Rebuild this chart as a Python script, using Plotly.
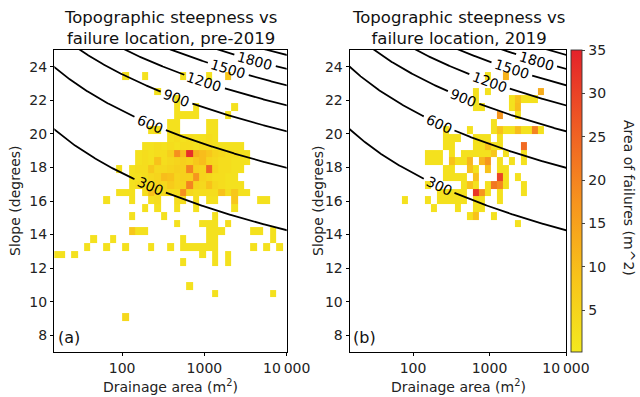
import numpy as np
import plotly.graph_objects as go

# ---------------- data ----------------
# histogram bin edges: log10(drainage area) and slope (degrees)
area_edges_log10 = np.linspace(1.149, 1.149 + 0.0778 * 36, 37)
slope_edges = np.linspace(8.87, 8.87 + 0.463 * 32, 33)

# {slope bin: {area bin: area of failures (m^2)}}
pre2019_cells = {
    31: {11: 2, 14: 2, 20: 2, 24: 2, 27: 8},
    29: {16: 2},
    28: {19: 2},
    27: {19: 2, 22: 2, 28: 2},
    26: {19: 2, 20: 2, 21: 2, 22: 2, 27: 2},
    25: {18: 2, 19: 2, 24: 2, 25: 2},
    24: {15: 2, 16: 2, 18: 2, 19: 2, 24: 2, 25: 2},
    23: {18: 2, 19: 3, 20: 2, 21: 3, 22: 2, 23: 2, 24: 3, 25: 2},
    22: {14: 2, 15: 2, 16: 3, 17: 2, 18: 3, 19: 2, 20: 3, 21: 3, 22: 2, 23: 3,
         24: 3, 25: 2, 26: 2, 27: 2, 28: 2, 29: 2},
    21: {13: 2, 14: 3, 15: 2, 16: 3, 17: 3, 18: 6, 19: 18, 20: 10, 21: 33, 22: 12,
         23: 10, 24: 8, 25: 5, 26: 4, 27: 3, 28: 3, 29: 2, 30: 2},
    20: {13: 2, 14: 3, 15: 2, 16: 9, 17: 3, 18: 4, 19: 5, 20: 6, 21: 5, 22: 8,
         23: 10, 24: 5, 25: 4, 26: 3, 27: 3, 28: 2, 29: 2, 30: 2},
    19: {10: 2, 12: 2, 13: 3, 14: 3, 15: 8, 16: 4, 17: 4, 18: 5, 19: 6, 20: 6,
         21: 20, 22: 6, 23: 5, 24: 25, 25: 5, 26: 3, 27: 3, 28: 2, 29: 2},
    18: {12: 2, 13: 2, 14: 3, 15: 4, 16: 5, 17: 10, 18: 9, 19: 5, 20: 6, 21: 6,
         22: 17, 23: 5, 24: 4, 25: 3, 26: 3, 27: 2, 28: 2},
    17: {12: 2, 13: 3, 14: 3, 15: 3, 16: 5, 17: 4, 18: 7, 19: 5, 20: 5, 21: 20,
         22: 5, 23: 4, 24: 9, 25: 4, 26: 3, 27: 2, 28: 2, 29: 2},
    16: {10: 2, 11: 2, 12: 2, 14: 3, 15: 9, 16: 3, 17: 4, 18: 3, 19: 3, 20: 18,
         21: 4, 22: 3, 23: 3, 24: 3, 25: 3, 26: 9, 27: 3, 28: 8, 29: 2, 30: 2},
    15: {8: 2, 12: 2, 15: 2, 16: 3, 19: 3, 20: 3, 22: 3, 24: 2, 25: 2, 28: 8,
         32: 2, 33: 2},
    14: {14: 2, 16: 2, 19: 2, 22: 2, 28: 2},
    13: {12: 2, 17: 2, 25: 2},
    12: {19: 2, 23: 2, 24: 2, 25: 2, 27: 3},
    11: {12: 8, 13: 2, 14: 2, 24: 2, 25: 2, 26: 2, 31: 2, 32: 2, 34: 2},
    10: {6: 2, 9: 2, 20: 2, 24: 2, 25: 2, 34: 2},
    9: {5: 2, 8: 2, 11: 2, 15: 2, 18: 2, 20: 2, 21: 2, 22: 2, 23: 2, 24: 2, 25: 2,
        31: 2, 33: 2, 35: 2},
    8: {0: 2, 1: 2, 3: 2, 23: 2, 25: 2, 27: 2},
    7: {20: 2, 25: 2, 27: 2},
    4: {21: 2},
    3: {25: 2, 34: 2},
    0: {11: 4},
}

cells_2019 = {
    31: {23: 2, 26: 12},
    29: {21: 2, 23: 2, 32: 13},
    28: {21: 2, 27: 2, 28: 9, 29: 2, 30: 2, 31: 2},
    27: {21: 2, 22: 2, 27: 2, 28: 10},
    26: {25: 17, 28: 2},
    25: {24: 2},
    24: {16: 2, 20: 2, 24: 2, 25: 9, 26: 2, 27: 2, 28: 10, 29: 2, 30: 2, 31: 20, 32: 2},
    23: {16: 2, 17: 2, 18: 2, 21: 2, 22: 2, 23: 2, 25: 2},
    22: {16: 2, 17: 2, 21: 2, 22: 2, 23: 9, 24: 2, 25: 2, 29: 24},
    21: {13: 2, 14: 2, 15: 2, 17: 2, 19: 2, 20: 2, 21: 2, 22: 2, 23: 2, 24: 8,
         26: 2, 29: 2},
    20: {13: 2, 14: 2, 15: 2, 17: 9, 18: 2, 19: 2, 20: 11, 22: 11, 23: 17, 25: 2,
         27: 2, 29: 2},
    19: {16: 2, 17: 2, 20: 9, 21: 2, 23: 9, 25: 2, 26: 2},
    18: {16: 2, 17: 2, 18: 2, 19: 2, 21: 9, 25: 30, 26: 2, 28: 2},
    17: {13: 2, 19: 2, 20: 9, 21: 2, 23: 2, 24: 22, 25: 19, 26: 2, 29: 2},
    16: {15: 2, 16: 2, 17: 2, 18: 2, 19: 2, 21: 32, 22: 17, 23: 2, 25: 2, 29: 2},
    15: {9: 2, 13: 2, 15: 2, 16: 2, 17: 2, 18: 2, 19: 2, 21: 2, 22: 2, 25: 2},
    14: {14: 2, 18: 2, 21: 2, 22: 2},
    13: {20: 2, 21: 9, 24: 2},
    12: {28: 2},
}

contour_levels = [300, 600, 900, 1200, 1500, 1800, 2100]
label_levels = [300, 600, 900, 1200, 1500, 1800]
label_log10_area = [2.34, 2.34, 2.66, 3.0, 3.29, 3.615]
x_tick_values = [100, 1000, 10000]
x_tick_labels = ["100", "1000", "10\u2009000"]
y_tick_values = [8, 10, 12, 14, 16, 18, 20, 22, 24]
colorbar_ticks = [5, 10, 15, 20, 25, 30, 35]
titles = ["Topographic steepness vs<br>failure location, pre-2019",
          "Topographic steepness vs<br>failure location, 2019"]
panel_tags = ["(a)", "(b)"]

# steepness index f(A, S) = C * log10(A)^P * exp(B * S)
C_, P_, B_ = 5.94, 0.913, 0.1863


def slope_on_level(level, L):
    return (np.log(level / C_) - P_ * np.log(L)) / B_


def to_grid(cells):
    z = [[None] * 36 for _ in range(32)]
    for r, row in cells.items():
        for c, v in row.items():
            z[r][c] = v
    return z


FONT = "DejaVu Sans"
W, H = 640, 397
px = lambda v: v / W
py = lambda v: 1 - v / H
XMIN = np.log10(15)
panels = [dict(x0=54.3, x1=286.7), dict(x0=350.0, x1=566.0)]
Y0, Y1 = 50.0, 352.0
px_per_deg = (Y1 - Y0) / 18.0

area_edges = (10 ** area_edges_log10).tolist()
Lg = np.linspace(XMIN - 0.02, 4.02, 900)

fig = go.Figure()
ann = []
for i, cells in enumerate([pre2019_cells, cells_2019]):
    xa = "x" if i == 0 else "x2"
    ya = "y" if i == 0 else "y2"
    px_per_dec = (panels[i]["x1"] - panels[i]["x0"]) / (4 - XMIN)
    fig.add_trace(go.Heatmap(
        x=area_edges, y=slope_edges.tolist(), z=to_grid(cells),
        coloraxis="coloraxis", xaxis=xa, yaxis=ya, hoverongaps=False))
    for lev in contour_levels:
        S = slope_on_level(lev, Lg)
        S = np.where((S > 6.0) & (S < 26.0), S, np.nan)
        if lev in label_levels:
            j = label_levels.index(lev)
            Ll = label_log10_area[j]
            Sl = float(slope_on_level(lev, Ll))
            half = len(str(lev)) * 8.9 / 2 + 3.5
            d = np.hypot((Lg - Ll) * px_per_dec, (S - Sl) * px_per_deg)
            S = np.where(d < half, np.nan, S)
            dSdL = -P_ / (B_ * Ll)
            ang = np.degrees(np.arctan(-dSdL * px_per_deg / px_per_dec))
            ann.append(dict(x=Ll, y=Sl, xref=xa, yref=ya, text=str(lev),
                            textangle=ang, showarrow=False, xanchor="center",
                            yanchor="middle",
                            font=dict(size=14, family=FONT, color="black")))
        fig.add_trace(go.Scatter(
            x=(10 ** Lg).tolist(), y=S.tolist(), mode="lines", xaxis=xa, yaxis=ya,
            line=dict(color="black", width=1.8), hoverinfo="skip",
            connectgaps=False))

axis_common = dict(showline=True, mirror=True, linecolor="black", linewidth=0.9,
                   ticks="outside", ticklen=3.5, tickwidth=0.9, tickcolor="black",
                   showgrid=False, zeroline=False, automargin=False,
                   tickfont=dict(size=14, family=FONT, color="#222"))
xr = [XMIN, 4]
fig.update_layout(
    width=W, height=H, autosize=False, margin=dict(l=0, r=0, t=0, b=0, pad=0),
    plot_bgcolor="white", paper_bgcolor="white", showlegend=False,
    font=dict(family=FONT, color="#222"),
    xaxis=dict(domain=[px(panels[0]["x0"]), px(panels[0]["x1"])], type="log", range=xr,
               tickvals=x_tick_values, ticktext=x_tick_labels, anchor="y", **axis_common),
    yaxis=dict(domain=[py(Y1), py(Y0)], range=[7, 25], tickvals=y_tick_values,
               anchor="x", **axis_common),
    xaxis2=dict(domain=[px(panels[1]["x0"]), px(panels[1]["x1"])], type="log", range=xr,
                tickvals=x_tick_values, ticktext=x_tick_labels, anchor="y2", **axis_common),
    yaxis2=dict(domain=[py(Y1), py(Y0)], range=[7, 25], tickvals=y_tick_values,
                anchor="x2", **axis_common),
    coloraxis=dict(
        cmin=0.2, cmax=35,
        colorscale=[[0.0, "#f3e91f"], [0.25, "#f8c31a"], [0.5, "#f6931e"],
                    [0.75, "#ef5b24"], [1.0, "#e4222a"]],
        colorbar=dict(x=px(571), xanchor="left", xpad=0, ypad=0,
                      y=py(201), yanchor="middle", len=(Y1 - Y0) / H, lenmode="fraction",
                      thickness=11, thicknessmode="pixels",
                      outlinewidth=0.9, outlinecolor="#333",
                      ticks="outside", ticklen=3.5, tickwidth=0.9,
                      tickvals=colorbar_ticks,
                      tickfont=dict(size=14, family=FONT, color="#222"))),
)

for i in range(2):
    cx = (panels[i]["x0"] + panels[i]["x1"]) / 2
    ann.append(dict(x=px(cx), y=py(49.5), xref="paper", yref="paper",
                    text=titles[i], showarrow=False, xanchor="center", yanchor="bottom",
                    font=dict(size=16.5, family=FONT, color="#111")))
    ann.append(dict(x=px(cx), y=py(386), xref="paper", yref="paper",
                    text="Drainage area (m<sup>2</sup>)", showarrow=False,
                    xanchor="center", yanchor="middle",
                    font=dict(size=14, family=FONT, color="#222")))
for xpos in (15, 318):
    ann.append(dict(x=px(xpos), y=py(201), xref="paper", yref="paper",
                    text="Slope (degrees)", textangle=-90, showarrow=False,
                    xanchor="center", yanchor="middle",
                    font=dict(size=14, family=FONT, color="#222")))
ann.append(dict(x=px(56), y=py(337), xref="paper", yref="paper", text=panel_tags[0],
                showarrow=False, xanchor="left", yanchor="middle",
                font=dict(size=16, family=FONT, color="#111")))
ann.append(dict(x=px(351), y=py(337), xref="paper", yref="paper", text=panel_tags[1],
                showarrow=False, xanchor="left", yanchor="middle",
                font=dict(size=16, family=FONT, color="#111")))
ann.append(dict(x=px(629), y=py(198), xref="paper", yref="paper",
                text="Area of failures (m^2)", textangle=90, showarrow=False,
                xanchor="center", yanchor="middle",
                font=dict(size=14, family=FONT, color="#222")))
fig.update_layout(annotations=ann)

fig.write_html(
    "out.html",
    config={"displayModeBar": False, "responsive": False},
    post_script="document.body.style.margin='0';document.body.style.overflow='hidden';",
)
